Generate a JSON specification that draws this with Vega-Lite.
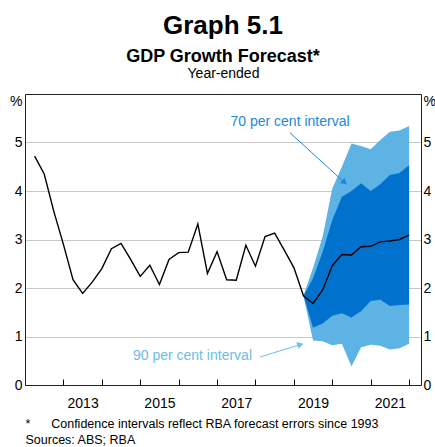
{
  "$schema": "https://vega.github.io/schema/vega-lite/v6.json",
  "width": 396,
  "height": 291,
  "autosize": {"type": "none"},
  "padding": {"left": 25, "top": 94, "right": 14, "bottom": 62},
  "background": "white",
  "config": {
    "font": "Liberation Sans",
    "view": {"stroke": null},
    "axis": {"labelFont": "Liberation Sans", "titleFont": "Liberation Sans", "labelColor": "#000", "titleColor": "#000"}
  },
  "title": {
    "text": "Graph 5.1",
    "subtitle": "GDP Growth Forecast*",
    "font": "Liberation Sans",
    "subtitleFont": "Liberation Sans",
    "fontSize": 26,
    "fontWeight": "bold",
    "color": "#000",
    "subtitleFontSize": 18,
    "subtitleFontWeight": "bold",
    "subtitleColor": "#000",
    "subtitlePadding": 9,
    "offset": 0,
    "anchor": "middle"
  },
  "datasets": {
    "series": [
      {"t": 2012.25, "gdp": 4.72},
      {"t": 2012.5, "gdp": 4.35},
      {"t": 2012.75, "gdp": 3.58},
      {"t": 2013.0, "gdp": 2.90},
      {"t": 2013.25, "gdp": 2.17},
      {"t": 2013.5, "gdp": 1.89},
      {"t": 2013.75, "gdp": 2.12},
      {"t": 2014.0, "gdp": 2.40},
      {"t": 2014.25, "gdp": 2.81},
      {"t": 2014.5, "gdp": 2.92},
      {"t": 2014.75, "gdp": 2.59},
      {"t": 2015.0, "gdp": 2.24},
      {"t": 2015.25, "gdp": 2.47},
      {"t": 2015.5, "gdp": 2.07},
      {"t": 2015.75, "gdp": 2.59},
      {"t": 2016.0, "gdp": 2.73},
      {"t": 2016.25, "gdp": 2.74},
      {"t": 2016.5, "gdp": 3.32},
      {"t": 2016.75, "gdp": 2.30},
      {"t": 2017.0, "gdp": 2.75},
      {"t": 2017.25, "gdp": 2.17},
      {"t": 2017.5, "gdp": 2.16},
      {"t": 2017.75, "gdp": 2.88},
      {"t": 2018.0, "gdp": 2.45},
      {"t": 2018.25, "gdp": 3.06},
      {"t": 2018.5, "gdp": 3.13},
      {"t": 2018.75, "gdp": 2.78},
      {"t": 2019.0, "gdp": 2.42},
      {"t": 2019.25, "gdp": 1.84, "lo90": 1.84, "lo70": 1.84, "hi70": 1.84, "hi90": 1.84},
      {"t": 2019.5, "gdp": 1.68, "lo90": 0.92, "lo70": 1.18, "hi70": 2.20, "hi90": 2.42},
      {"t": 2019.75, "gdp": 1.96, "lo90": 0.90, "lo70": 1.27, "hi70": 2.75, "hi90": 3.06},
      {"t": 2020.0, "gdp": 2.46, "lo90": 0.82, "lo70": 1.43, "hi70": 3.40, "hi90": 4.05},
      {"t": 2020.25, "gdp": 2.69, "lo90": 0.85, "lo70": 1.48, "hi70": 3.88, "hi90": 4.50},
      {"t": 2020.5, "gdp": 2.68, "lo90": 0.38, "lo70": 1.39, "hi70": 4.00, "hi90": 4.98},
      {"t": 2020.75, "gdp": 2.85, "lo90": 0.78, "lo70": 1.52, "hi70": 4.16, "hi90": 4.93},
      {"t": 2021.0, "gdp": 2.86, "lo90": 0.83, "lo70": 1.73, "hi70": 4.00, "hi90": 4.86},
      {"t": 2021.25, "gdp": 2.95, "lo90": 0.81, "lo70": 1.76, "hi70": 4.14, "hi90": 5.05},
      {"t": 2021.5, "gdp": 2.97, "lo90": 0.73, "lo70": 1.63, "hi70": 4.33, "hi90": 5.22},
      {"t": 2021.75, "gdp": 3.00, "lo90": 0.76, "lo70": 1.65, "hi70": 4.37, "hi90": 5.25},
      {"t": 2022.0, "gdp": 3.09, "lo90": 0.85, "lo70": 1.66, "hi70": 4.53, "hi90": 5.34}
    ],
    "notes": [
      {"label": "70 per cent interval", "tx": 2018.9, "ty": 5.43, "ax": 2018.9, "ay": 5.2, "bx": 2020.32, "by": 4.175},
      {"label": "90 per cent interval", "tx": 2016.36, "ty": 0.59, "ax": 2018.12, "ay": 0.577, "bx": 2019.17, "by": 0.834}
    ]
  },
  "layer": [
    {
      "data": {"name": "series"},
      "transform": [{"filter": "isValid(datum.hi90)"}],
      "mark": {"type": "area", "color": "#5DB4E4", "opacity": 1},
      "encoding": {
        "x": {"field": "t", "type": "quantitative", "scale": {"domain": [2012, 2022.31], "nice": false, "zero": false},
          "axis": {"orient": "top", "ticks": false, "labels": false, "grid": false, "domain": true, "domainColor": "#222", "title": "Year-ended", "titleFontSize": 14, "titleFontWeight": "normal", "titlePadding": 14, "titleAnchor": "middle"}},
        "y": {"field": "lo90", "type": "quantitative", "scale": {"domain": [0, 6], "nice": false, "zero": false},
          "axis": {"orient": "right", "values": [0, 1, 2, 3, 4, 5, 6], "labelExpr": "datum.value == 6 ? '%' : datum.label", "labelBaseline": {"condition": {"test": "datum.value == 6", "value": "top"}, "value": "middle"}, "ticks": false, "grid": false, "domainColor": "#222", "labelFontSize": 14, "labelPadding": 2, "labelFlush": false, "title": null}},
        "y2": {"field": "hi90"}
      }
    },
    {
      "data": {"name": "series"},
      "transform": [{"filter": "isValid(datum.hi70)"}],
      "mark": {"type": "area", "color": "#0072CE", "opacity": 1},
      "encoding": {
        "x": {"field": "t", "type": "quantitative", "scale": {"domain": [2012, 2022.31], "nice": false, "zero": false}, "axis": null},
        "y": {"field": "lo70", "type": "quantitative", "scale": {"domain": [0, 6], "nice": false, "zero": false}, "axis": null},
        "y2": {"field": "hi70"}
      }
    },
    {
      "data": {"name": "series"},
      "mark": {"type": "line", "color": "#000", "strokeWidth": 1.4},
      "encoding": {
        "x": {"field": "t", "type": "quantitative", "scale": {"domain": [2012, 2022.31], "nice": false, "zero": false},
          "axis": {"orient": "bottom", "values": [2012, 2013, 2014, 2015, 2016, 2017, 2018, 2019, 2020, 2021, 2022], "format": "d", "labelExpr": "datum.value % 2 == 1 && datum.value < 2022 ? datum.label : ''", "tickSize": -6, "tickColor": "#000", "labelOffset": 19.2, "labelPadding": 17, "labelFontSize": 14, "labelFlush": false, "labelOverlap": false, "grid": false, "domainColor": "#222",
            "title": ["*\u00a0\u00a0\u00a0\u00a0\u00a0\u00a0Confidence intervals reflect RBA forecast errors since 1993", "Sources: ABS; RBA"], "titleFontSize": 12.5, "titleFontWeight": "normal", "titleAnchor": "start", "titleAlign": "left", "titleBaseline": "top", "titlePadding": 7, "titleLineHeight": 16.5}},
        "y": {"field": "gdp", "type": "quantitative", "scale": {"domain": [0, 6], "nice": false, "zero": false},
          "axis": {"orient": "left", "values": [0, 1, 2, 3, 4, 5, 6], "labelExpr": "datum.value == 6 ? '%' : datum.label", "labelBaseline": {"condition": {"test": "datum.value == 6", "value": "top"}, "value": "middle"}, "ticks": false, "grid": true, "gridColor": "#c8c8c8", "gridWidth": 1, "domainColor": "#222", "labelFontSize": 14, "labelPadding": 3, "labelFlush": false, "title": null}}
      }
    },
    {
      "data": {"name": "notes"},
      "mark": {"type": "rule", "strokeWidth": 1},
      "encoding": {
        "x": {"field": "ax", "type": "quantitative", "scale": {"domain": [2012, 2022.31], "nice": false, "zero": false}, "axis": null},
        "y": {"field": "ay", "type": "quantitative", "scale": {"domain": [0, 6], "nice": false, "zero": false}, "axis": null},
        "x2": {"field": "bx"},
        "y2": {"field": "by"},
        "color": {"field": "label", "type": "nominal", "scale": {"domain": ["70 per cent interval", "90 per cent interval"], "range": ["#1E88D6", "#6CBDEA"]}, "legend": null}
      }
    },
    {
      "data": {"name": "notes"},
      "transform": [{"filter": "datum.label == '70 per cent interval'"}],
      "mark": {"type": "point", "shape": "triangle-up", "filled": true, "size": 50, "angle": 132, "opacity": 1, "color": "#1E88D6"},
      "encoding": {
        "x": {"field": "bx", "type": "quantitative", "scale": {"domain": [2012, 2022.31], "nice": false, "zero": false}, "axis": null},
        "y": {"field": "by", "type": "quantitative", "scale": {"domain": [0, 6], "nice": false, "zero": false}, "axis": null}
      }
    },
    {
      "data": {"name": "notes"},
      "transform": [{"filter": "datum.label == '90 per cent interval'"}],
      "mark": {"type": "point", "shape": "triangle-up", "filled": true, "size": 50, "angle": 73, "opacity": 1, "color": "#6CBDEA"},
      "encoding": {
        "x": {"field": "bx", "type": "quantitative", "scale": {"domain": [2012, 2022.31], "nice": false, "zero": false}, "axis": null},
        "y": {"field": "by", "type": "quantitative", "scale": {"domain": [0, 6], "nice": false, "zero": false}, "axis": null}
      }
    },
    {
      "data": {"name": "notes"},
      "mark": {"type": "text", "fontSize": 14, "font": "Liberation Sans", "align": "center", "baseline": "middle"},
      "encoding": {
        "x": {"field": "tx", "type": "quantitative", "scale": {"domain": [2012, 2022.31], "nice": false, "zero": false}, "axis": null},
        "y": {"field": "ty", "type": "quantitative", "scale": {"domain": [0, 6], "nice": false, "zero": false}, "axis": null},
        "text": {"field": "label"},
        "color": {"field": "label", "type": "nominal", "scale": {"domain": ["70 per cent interval", "90 per cent interval"], "range": ["#1E88D6", "#6CBDEA"]}, "legend": null}
      }
    }
  ],
  "resolve": {"axis": {"x": "independent", "y": "independent"}}
}
